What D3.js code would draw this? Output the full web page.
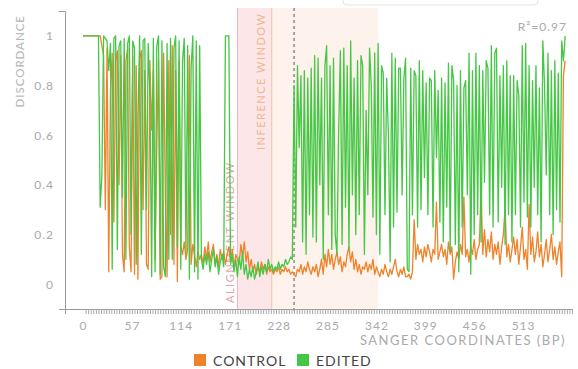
<!DOCTYPE html>
<html>
<head>
<meta charset="utf-8">
<script src="https://cdnjs.cloudflare.com/ajax/libs/d3/7.8.5/d3.min.js"></script>
<style>
  body { margin: 0; background: #fff; }
  text { font-family: Lato, 'Open Sans', sans-serif; }
</style>
</head>
<body>
<div id="chart"></div>
<script>
// sanger coordinates (bp), one reading every 2 bp
const positions = d3.range(0, 564, 2);

const control = [
  1,1,1,1,1,1,1,1,1,1,
  1,.96,.92,.3,.95,.05,.78,.93,.25,.9,
  .94,.4,.92,.12,.05,.9,.95,.15,.05,.92,
  .04,.88,.02,.91,.94,.3,.86,.08,.06,.9,
  .62,.86,.1,.55,.9,.02,.03,.93,.35,.03,
  .9,.2,.96,.08,.86,.01,.9,.15,.12,.17,
  .1,.14,.92,.08,.16,.12,.07,.13,.1,
  .12,.08,.15,.1,.17,.09,.13,.16,.08,.12,
  .07,.14,.1,.13,.08,.12,.15,.09,.14,.07,
  .12,.1,.08,.16,.11,.17,.09,.13,.06,.1,
  .05,.08,.04,.07,.05,.09,.06,.08,.04,.07,
  .05,.06,.04,.06,.05,.07,.04,.06,.05,.07,
  .05,.06,.04,.05,
  .04,.03,.06,.05,.08,.04,.07,.05,.09,.06,
  .04,.07,.05,.08,.03,.06,.1,.04,.12,.07,
  .14,.08,.12,.06,.1,.13,.08,.11,.05,.09,
  .07,.12,.15,.09,.13,.06,.1,.05,.08,.04,
  .07,.06,.09,.05,.08,.06,.1,.04,.07,.05,
  .03,.06,.04,.08,.05,.03,.06,.04,.07,.1,
  .05,.03,.06,.04,.07,.03,
  .03,.04,.02,.05,.26,.1,.16,.12,.14,.09,
  .15,.11,.16,.13,.09,.14,.12,.33,.1,.13,
  .16,.11,.14,.08,.17,.12,.15,.02,.09,.13,
  .1,.16,.12,.35,.11,.14,.09,.15,.12,.18,
  .1,.14,.16,.39,.12,.22,.11,.18,.13,.21,
  .1,.16,.12,.17,.08,.15,.2,.31,.11,.16,
  .09,.14,.19,.12,.18,.08,.15,.23,.1,.14,
  .06,.32,.12,.19,.09,.13,.21,.11,.16,.07,
  .12,.18,.09,.14,.2,.1,.15,.08,.13,.17,
  .03,.84,.9
];

const edited = [
  1,1,1,1,1,1,1,1,1,1,
  .31,.44,1,.99,.98,.86,.97,.06,.99,1,
  .14,.96,.98,.35,.99,.1,.97,1,.2,.98,
  .95,.08,.66,1,.12,.98,.99,.3,.97,.77,
  .03,.99,.05,.96,1,.04,.98,.07,.03,.97,
  .1,.99,.1,.95,1,.15,.98,.06,.9,.99,
  .12,.96,.02,.87,1,.05,.98,.02,.96,
  .1,.06,.12,.08,.13,.05,.1,.14,.07,.11,
  .04,.09,.12,.07,1,1,1,.08,.12,.05,
  .1,.03,.11,.06,.13,.04,.08,.02,.06,.03,
  .07,.02,.05,.09,.03,.07,.04,.08,.05,.1,
  .06,.08,.05,.07,.06,.09,.06,.08,.07,.1,
  .08,.09,.11,.1,
  .80,.23,.88,.55,.84,.17,.86,.12,.83,.28,
  .87,.19,.92,.17,.91,.40,.83,.10,.88,.96,
  .28,.88,.14,.91,.20,.12,.62,.94,.16,.95,
  .31,.88,.14,.98,.36,.83,.20,.90,.28,.92,
  .88,.12,.70,.36,.95,.80,.27,.93,.20,.97,
  .12,.88,.85,.28,.83,.60,.09,.93,.23,.91,
  .29,.87,.87,.36,.83,.91,
  .06,.05,.87,.28,.86,.84,.23,.90,.30,.86,
  .43,.81,.28,.83,.82,.23,.86,.51,.78,.25,
  .83,.17,.81,.31,.89,.13,.88,.82,.16,.80,
  .05,.86,.23,.79,.82,.36,.93,.04,.86,.2,
  .93,.28,.88,.17,.86,.41,.9,.87,.28,.96,
  .23,.93,.95,.25,.84,.39,.88,.16,.9,.28,
  .84,.17,.84,.28,.82,.76,.23,.96,.33,.97,
  .27,.88,.23,.82,.39,.88,.28,.79,.17,.98,
  .8,.44,.93,.28,.86,.2,.9,.3,.85,.25,
  .98,.9,1
];

const yTicks = [0, 0.2, 0.4, 0.6, 0.8, 1];
const xTickLabels = [0, 57, 114, 171, 228, 285, 342, 399, 456, 513];
const xMinorTicks = d3.range(3, 571, 3);
const alignmentWindow = [180, 220];
const inferenceWindow = [220, 344];
const cutSite = 246;
const rSquared = 0.97;
const seriesNames = ['CONTROL', 'EDITED'];

const colors = { control: '#f0822a', edited: '#45c645' };
const width = 578, height = 369;

const svg = d3.select('#chart').append('svg')
  .attr('width', width)
  .attr('height', height);

const x = d3.scaleLinear().domain([-21, 570]).range([65, 572]);
const y = d3.scaleLinear().domain([-0.1, 1.1]).range([309, 11]);
const plotTop = 8, plotBottom = y.range()[0];

// piece of a box cut off at the top
svg.append('rect')
  .attr('x', 343).attr('y', -20)
  .attr('width', 195).attr('height', 25)
  .attr('rx', 4)
  .attr('fill', '#fff')
  .attr('stroke', '#e3e3e3');

// windows
svg.append('rect')
  .attr('x', x(inferenceWindow[0]))
  .attr('y', plotTop)
  .attr('width', x(inferenceWindow[1]) - x(inferenceWindow[0]))
  .attr('height', plotBottom - plotTop)
  .attr('fill', '#fef3ec');

svg.append('rect')
  .attr('x', x(alignmentWindow[0]))
  .attr('y', plotTop)
  .attr('width', x(alignmentWindow[1]) - x(alignmentWindow[0]))
  .attr('height', plotBottom - plotTop)
  .attr('fill', '#fce6e8');

svg.append('line')
  .attr('x1', x(alignmentWindow[0])).attr('x2', x(alignmentWindow[0]))
  .attr('y1', plotTop).attr('y2', plotBottom)
  .attr('stroke', '#eeb3bb');

svg.append('line')
  .attr('x1', x(alignmentWindow[1])).attr('x2', x(alignmentWindow[1]))
  .attr('y1', plotTop).attr('y2', plotBottom)
  .attr('stroke', '#f4c2a6');

svg.append('text')
  .attr('transform', `translate(${x(alignmentWindow[0]) - 3},303) rotate(-90)`)
  .style('font-size', '11px')
  .style('letter-spacing', '1.5px')
  .attr('fill', '#e3a4ad')
  .text('ALIGNMENT WINDOW');

svg.append('text')
  .attr('transform', `translate(${x(inferenceWindow[0]) - 7},150) rotate(-90)`)
  .style('font-size', '11px')
  .style('letter-spacing', '1.5px')
  .attr('fill', '#efb78f')
  .text('INFERENCE WINDOW');

// cut site
svg.append('line')
  .attr('x1', x(cutSite)).attr('x2', x(cutSite))
  .attr('y1', plotTop).attr('y2', plotBottom + 2)
  .attr('stroke', '#555')
  .attr('stroke-dasharray', '3,3');

// axes
const xMinor = svg.append('g')
  .attr('transform', `translate(0,${plotBottom})`)
  .call(d3.axisBottom(x).tickValues(xMinorTicks).tickSize(5).tickSizeOuter(5).tickFormat(''));
xMinor.select('.domain').attr('stroke', '#999');
xMinor.selectAll('.tick line').attr('stroke', '#aaa');

const xLabels = svg.append('g')
  .attr('transform', `translate(0,${plotBottom})`)
  .call(d3.axisBottom(x).tickValues(xTickLabels).tickSize(0).tickPadding(12));
xLabels.select('.domain').remove();
xLabels.selectAll('text')
  .attr('fill', '#aaa')
  .style('font-size', '12px')
  .style('letter-spacing', '1px')
  .style('font-family', 'Lato, sans-serif');

const yAxis = svg.append('g')
  .attr('transform', `translate(${x.range()[0]},0)`)
  .call(d3.axisLeft(y).tickValues(yTicks).tickSize(0).tickSizeOuter(6).tickPadding(11)
    .tickFormat(d => String(+d.toFixed(1))));
yAxis.select('.domain').attr('stroke', '#999');
yAxis.selectAll('text')
  .attr('fill', '#aaa')
  .style('font-size', '12px')
  .style('letter-spacing', '1px')
  .style('font-family', 'Lato, sans-serif');

// axis titles
svg.append('text')
  .attr('transform', 'translate(24,15) rotate(-90)')
  .attr('text-anchor', 'end')
  .style('font-size', '11.5px')
  .style('letter-spacing', '1px')
  .attr('fill', '#b5b5b5')
  .text('DISCORDANCE');

svg.append('text')
  .attr('x', 566).attr('y', 345)
  .attr('text-anchor', 'end')
  .style('font-size', '13px')
  .style('letter-spacing', '1.5px')
  .attr('fill', '#aaa')
  .text('SANGER COORDINATES (BP)');

svg.append('text')
  .attr('x', 567).attr('y', 31)
  .attr('text-anchor', 'end')
  .style('font-size', '12px')
  .style('letter-spacing', '1px')
  .attr('fill', '#aaa')
  .text(`R²=${rSquared}`);

// series
const line = d3.line()
  .x((d, i) => x(positions[i]))
  .y(d => y(d));

svg.append('path')
  .datum(control)
  .attr('d', line)
  .attr('fill', 'none')
  .attr('stroke', colors.control)
  .attr('stroke-width', 1.3)
  .attr('stroke-linejoin', 'round');

svg.append('path')
  .datum(edited)
  .attr('d', line)
  .attr('fill', 'none')
  .attr('stroke', colors.edited)
  .attr('stroke-width', 1.3)
  .attr('stroke-linejoin', 'round');

// legend
const legend = svg.append('g').attr('transform', 'translate(194,354)');
const items = legend.selectAll('g')
  .data(seriesNames)
  .enter().append('g')
  .attr('transform', (d, i) => `translate(${i * 103},0)`);

items.append('rect')
  .attr('width', 12).attr('height', 12)
  .attr('fill', (d, i) => i === 0 ? colors.control : colors.edited);

items.append('text')
  .attr('x', 19).attr('y', 12)
  .style('font-size', '14px')
  .style('letter-spacing', '1px')
  .attr('fill', '#444')
  .text(d => d);
</script>
</body>
</html>
